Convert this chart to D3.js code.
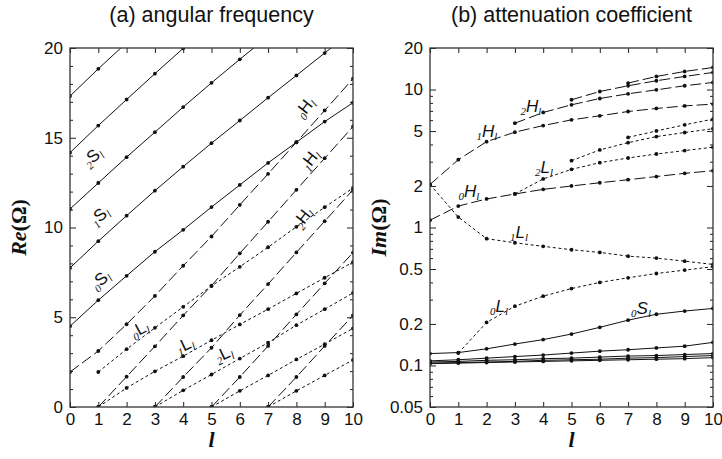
<html>
<head>
<script src="https://d3js.org/d3.v7.min.js"></script>
<style>
  body { margin: 0; background: #fff; }
  text { font-family: "Liberation Sans", Arial, sans-serif; fill: #111; }
</style>
</head>
<body>
<svg class="chart"></svg>
<script>
// angular number l
const ells = d3.range(0, 11);

// (a) Re(Omega) -- S modes (solid)
const reS0 = [4.5, 5.95, 7.31, 8.65, 9.87, 11.14, 12.37, 13.6, 14.75, 15.9, 16.95];
const reS1 = [7.75, 9.24, 10.66, 12.05, 13.39, 14.7, 15.96, 17.23, 18.47, 19.72, 20.95];
const reS2 = [11.03, 12.48, 13.92, 15.31, 16.71, 18.06, 19.37, 20.65, null, null, null];
const reS3 = [14.17, 15.68, 17.13, 18.57, 19.98, 21.35, null, null, null, null, null];
const reS4 = [17.32, 18.84, 20.3, null, null, null, null, null, null, null, null];
// H modes (long dash)
const reH0 = [1.95, 3.12, 4.61, 6.19, 7.87, 9.5, 11.26, 12.99, 14.75, 16.52, 18.29];
const reH1 = [null, 0, 1.69, 3.38, 5.1, 6.76, 8.56, 10.32, 12.1, 13.86, 15.62];
const reH2 = [null, null, null, 0, 1.67, 3.3, 5.12, 6.85, 8.61, 10.35, 12.1];
const reH3 = [null, null, null, null, null, 0, 1.67, 3.4, 5.16, 6.89, 8.6];
const reH4 = [null, null, null, null, null, null, null, 0, 1.67, 3.4, 5.1];
// L modes (dotted)
const reL0 = [null, 1.95, 3.22, 4.41, 5.58, 6.74, 7.81, 8.9, 10.04, 11.13, 12.2];
const reL1 = [null, 0, 1.06, 1.99, 2.83, 3.72, 4.6, 5.45, 6.33, 7.2, 8.07];
const reL2 = [null, null, null, 0, 0.93, 1.81, 2.7, 3.58, 4.56, 5.45, 6.35];
const reL3 = [null, null, null, null, null, 0, 0.9, 1.76, 2.65, 3.5, 4.38];
const reL4 = [null, null, null, null, null, null, null, 0, 0.9, 1.76, 2.62];

// (b) Im(Omega)
const imS0 = [0.122, 0.124, 0.132, 0.143, 0.154, 0.169, 0.189, 0.213, 0.235, 0.248, 0.259];
const imS1 = [0.108, 0.110, 0.113, 0.116, 0.119, 0.123, 0.127, 0.130, 0.134, 0.138, 0.147];
const imS2 = [0.106, 0.107, 0.109, 0.110, 0.112, 0.113, 0.115, 0.117, 0.118, 0.120, 0.122];
const imS3 = [0.104, 0.105, 0.106, 0.107, 0.109, 0.110, 0.111, 0.113, 0.114, 0.116, 0.118];
const imS4 = [0.103, 0.104, 0.105, 0.106, 0.107, 0.108, 0.109, 0.110, 0.111, 0.112, 0.114];
const imH0 = [1.13, 1.43, 1.61, 1.75, 1.89, 2.0, 2.11, 2.22, 2.34, 2.47, 2.58];
const imH1 = [2.05, 3.1, 4.19, 4.91, 5.48, 6.03, 6.45, 6.93, 7.29, 7.61, 7.84];
const imH2 = [null, null, null, 5.7, 6.82, 7.75, 8.61, 9.31, 9.95, 10.65, 11.25];
const imH3 = [null, null, null, null, null, 8.43, 9.68, 10.65, 11.58, 12.44, 13.3];
const imH4 = [null, null, null, null, null, null, null, 11.14, 12.44, 13.52, 14.45];
const imL0 = [null, 0.123, 0.205, 0.269, 0.318, 0.361, 0.40, 0.432, 0.464, 0.491, 0.52];
const imL1 = [2.05, 1.19, 0.83, 0.775, 0.73, 0.69, 0.66, 0.62, 0.60, 0.57, 0.54];
const imL2 = [null, null, null, 1.75, 2.25, 2.64, 2.95, 3.19, 3.41, 3.61, 3.82];
const imL3 = [null, null, null, null, null, 3.05, 3.65, 4.12, 4.56, 4.88, 5.2];
const imL4 = [null, null, null, null, null, null, null, 4.5, 5.01, 5.55, 6.1];

// ticks
const reTicks = [0, 5, 10, 15, 20];
const reMinor = d3.range(1, 20).filter(v => v % 5 !== 0);
const imTicks = [0.05, 0.1, 0.2, 0.5, 1, 2, 5, 10, 20];
const imMinor = [0.06, 0.07, 0.08, 0.09, 0.3, 0.4, 0.6, 0.7, 0.8, 0.9, 3, 4, 6, 7, 8, 9];

const dashes = { S: null, H: '11,4', L: '3,2.6' };

const svg = d3.select('.chart').attr('width', 722).attr('height', 459);

function drawPanel(id, x, y, series, yTicks, yMinor, title, ylab, labels, rotated){
  const g = svg.append('g');
  const [x0, x1] = x.range();
  const [y0, y1] = y.range(); // y0 bottom, y1 top

  g.append('clipPath').attr('id', id).append('rect')
    .attr('x', x0).attr('y', y1).attr('width', x1 - x0).attr('height', y0 - y1);

  const plot = g.append('g').attr('clip-path', `url(#${id})`);
  const line = d3.line()
    .defined(d => d[1] !== null)
    .x(d => x(d[0])).y(d => y(d[1]));

  series.forEach(s => {
    const pts = ells.map((l, i) => [l, s.vals[i]]);
    plot.append('path')
      .attr('d', line(pts))
      .attr('fill', 'none')
      .attr('stroke', '#111')
      .attr('stroke-width', 1)
      .attr('stroke-dasharray', dashes[s.kind]);
    plot.selectAll(null)
      .data(pts.filter(d => d[1] !== null))
      .join('circle')
        .attr('cx', d => x(d[0]))
        .attr('cy', d => y(d[1]))
        .attr('r', 1.9)
        .attr('fill', '#111');
  });

  // axes, ticks inward
  const bottom = g.append('g').attr('transform', `translate(0,${y0})`)
    .call(d3.axisBottom(x).tickValues(ells).tickSize(-5).tickPadding(6).tickFormat(d3.format('d')));
  const top = g.append('g').attr('transform', `translate(0,${y1})`)
    .call(d3.axisTop(x).tickValues(ells).tickSize(-5).tickFormat(''));
  const left = g.append('g').attr('transform', `translate(${x0},0)`)
    .call(d3.axisLeft(y).tickValues(yTicks).tickSize(-6).tickPadding(7).tickFormat(d => String(d)));
  const right = g.append('g').attr('transform', `translate(${x1},0)`)
    .call(d3.axisRight(y).tickValues(yTicks).tickSize(-6).tickFormat(''));
  const minorL = g.append('g').attr('transform', `translate(${x0},0)`)
    .call(d3.axisLeft(y).tickValues(yMinor).tickSize(-3).tickFormat(''));
  const minorR = g.append('g').attr('transform', `translate(${x1},0)`)
    .call(d3.axisRight(y).tickValues(yMinor).tickSize(-3).tickFormat(''));
  [bottom, top, left, right, minorL, minorR].forEach(a => {
    a.select('.domain').remove();
    a.selectAll('line').attr('stroke', '#222');
    a.selectAll('text').style('font-size', '17px').style('font-family', '"Liberation Sans", Arial, sans-serif').attr('fill', '#111');
  });

  g.append('rect')
    .attr('x', x0).attr('y', y1).attr('width', x1 - x0).attr('height', y0 - y1)
    .attr('fill', 'none').attr('stroke', '#333').attr('stroke-width', 1.3);

  const cx = (x0 + x1) / 2;
  g.append('text').attr('x', cx).attr('y', 22).attr('text-anchor', 'middle')
    .style('font-size', '21.5px').text(title);

  g.append('text').attr('x', cx).attr('y', 447).attr('text-anchor', 'middle')
    .style('font-family', '"Liberation Serif", "Times New Roman", serif')
    .style('font-weight', 'bold').style('font-style', 'italic').style('font-size', '22px')
    .text('l');

  const yl = g.append('text')
    .attr('transform', `translate(${x0 - 44},${(y0 + y1) / 2}) rotate(-90)`)
    .attr('text-anchor', 'middle')
    .style('font-family', '"Liberation Serif", "Times New Roman", serif')
    .style('font-weight', 'bold').style('font-size', '22px');
  yl.append('tspan').style('font-style', 'italic').text(ylab);
  yl.append('tspan').text('(Ω)');

  labels.forEach(lb => {
    const t = g.append('text')
      .attr('transform', `translate(${lb.x},${lb.y}) rotate(${lb.rot || 0})`)
      .attr('text-anchor', 'middle');
    t.append('tspan').attr('dy', 3)
      .style('font-family', '"Liberation Serif", serif').style('font-style', 'italic').style('font-size', '11px')
      .text(lb.pre);
    t.append('tspan').attr('dy', -3)
      .style('font-size', '17px').style('font-style', rotated ? 'normal' : 'italic')
      .text(lb.letter);
    t.append('tspan').attr('dy', 3)
      .style('font-family', '"Liberation Serif", serif').style('font-style', 'italic').style('font-size', '11px')
      .text('l');
  });
}

const xL = d3.scaleLinear([0, 10], [70, 353]);
const yL = d3.scaleLinear([0, 20], [407, 48]);
const xR = d3.scaleLinear([0, 10], [430, 713]);
const yR = d3.scaleLog([0.05, 20], [407, 48]);

const seriesA = [
  {vals: reS0, kind: 'S'}, {vals: reS1, kind: 'S'}, {vals: reS2, kind: 'S'}, {vals: reS3, kind: 'S'}, {vals: reS4, kind: 'S'},
  {vals: reH0, kind: 'H'}, {vals: reH1, kind: 'H'}, {vals: reH2, kind: 'H'}, {vals: reH3, kind: 'H'}, {vals: reH4, kind: 'H'},
  {vals: reL0, kind: 'L'}, {vals: reL1, kind: 'L'}, {vals: reL2, kind: 'L'}, {vals: reL3, kind: 'L'}, {vals: reL4, kind: 'L'}
];
const seriesB = [
  {vals: imS0, kind: 'S'}, {vals: imS1, kind: 'S'}, {vals: imS2, kind: 'S'}, {vals: imS3, kind: 'S'}, {vals: imS4, kind: 'S'},
  {vals: imH0, kind: 'H'}, {vals: imH1, kind: 'H'}, {vals: imH2, kind: 'H'}, {vals: imH3, kind: 'H'}, {vals: imH4, kind: 'H'},
  {vals: imL0, kind: 'L'}, {vals: imL1, kind: 'L'}, {vals: imL2, kind: 'L'}, {vals: imL3, kind: 'L'}, {vals: imL4, kind: 'L'}
];

const labelsA = [
  {pre: '2', letter: 'S', x: 96, y: 161, rot: -42},
  {pre: '1', letter: 'S', x: 103, y: 220, rot: -42},
  {pre: '0', letter: 'S', x: 104, y: 284, rot: -42},
  {pre: '0', letter: 'L', x: 142, y: 334, rot: -28},
  {pre: '1', letter: 'L', x: 187, y: 350, rot: -25},
  {pre: '2', letter: 'L', x: 226, y: 359, rot: -25},
  {pre: '0', letter: 'H', x: 309, y: 111, rot: -52},
  {pre: '1', letter: 'H', x: 314, y: 163, rot: -52},
  {pre: '2', letter: 'H', x: 307, y: 221, rot: -52}
];
const labelsB = [
  {pre: '1', letter: 'H', x: 487, y: 137},
  {pre: '2', letter: 'H', x: 531, y: 112},
  {pre: '0', letter: 'H', x: 469, y: 197},
  {pre: '2', letter: 'L', x: 544, y: 173},
  {pre: '1', letter: 'L', x: 519, y: 238},
  {pre: '0', letter: 'L', x: 499, y: 312},
  {pre: '0', letter: 'S', x: 641, y: 314}
];

drawPanel('clipA', xL, yL, seriesA, reTicks, reMinor, '(a) angular frequency', 'Re', labelsA, true);
drawPanel('clipB', xR, yR, seriesB, imTicks, imMinor, '(b) attenuation coefficient', 'Im', labelsB, false);
</script>
</body>
</html>
